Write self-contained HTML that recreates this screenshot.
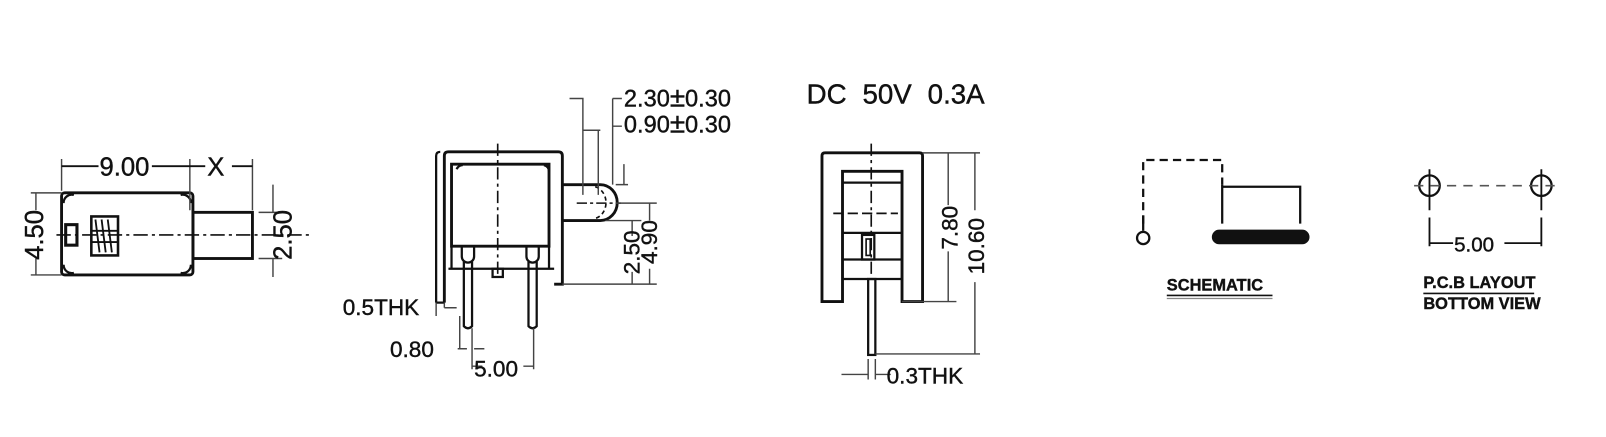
<!DOCTYPE html>
<html><head><meta charset="utf-8"><style>
html,body{margin:0;padding:0;background:#fff;width:1606px;height:437px;overflow:hidden}
svg{display:block}
text{font-family:"Liberation Sans",sans-serif;fill:#111;stroke:#111;stroke-width:0.4}
</style></head><body>
<svg width="1606" height="437" viewBox="0 0 1565 426" preserveAspectRatio="none" xmlns="http://www.w3.org/2000/svg">
<g stroke="#111" fill="none" stroke-width="2.2">
<!-- LEFT VIEW -->
<rect x="60" y="188" width="128" height="80" rx="3" stroke-width="2.8"/>
<rect x="188" y="207" width="58" height="45" stroke-width="2.8"/>
<path d="M62 198 a8 8 0 0 1 10 -8 M176 190 a8 8 0 0 1 10 8 M62 258 a8 8 0 0 0 10 8 M186 258 a8 8 0 0 1 -10 8"/>
<rect x="64" y="219" width="11" height="20" stroke-width="3"/>
<rect x="89" y="211" width="26" height="38" stroke-width="2.5"/>
<path d="M93 214 l4 32 M99 214 l4 32 M105 214 l4 32 M90 225 h24 M90 236 h24" stroke-width="1.8"/>
<path d="M55 229 h250" stroke-dasharray="14 4 3 4" stroke-width="1.6"/>
<path d="M60 186 V155 M185 205 V155 M246 205 V155" stroke-width="1.4" stroke="#444"/>
<path d="M60 162 H96 M148 162 H185 M185 162 H200 M226 162 H246" stroke-width="1.8"/>
<path d="M30 188 H60 M30 268 H60 M35 188 V205 M35 252 V268" stroke-width="1.4" stroke="#444"/>
<path d="M252 207 H275 M252 252 H275 M266 180 V207 M266 252 V270" stroke-width="1.4" stroke="#444"/>
<!-- MIDDLE VIEW -->
<path d="M433 295 V152 q0 -4 4 -4 H544 q4 0 4 4 V277 H540" stroke-width="2.8"/>
<path d="M425 295 V152 q0 -4 4 -4" stroke-width="2.2"/>
<path d="M425 295 H433"/>
<path d="M440 160 H535 V240 H440 Z" stroke-width="2.8"/>
<path d="M437 262 H540 M440 240 V262 M535 240 V262" stroke-width="2.2"/>
<path d="M445 165 a6 6 0 0 1 6 -4 M530 161 a6 6 0 0 1 5 6"/>
<path d="M450 240 v10 a6 6 0 0 0 12 0 v-10 M513 240 v10 a6 6 0 0 0 12 0 v-10"/>
<rect x="480" y="262" width="10" height="8"/>
<path d="M452 255 V318 q4 4 8 0 V255 M515 255 V318 q4 4 8 0 V255" stroke-width="2.2"/>
<path d="M485 140 V268" stroke-dasharray="12 4 3 4" stroke-width="1.6"/>
<path d="M548 180 H585 a16 17 0 0 1 0 35 H548" stroke-width="2.8"/>
<path d="M580 182 a14 16 0 0 1 0 31" stroke-dasharray="4 3" stroke-width="1.6"/>
<path d="M562 198 H605" stroke-dasharray="10 3 3 3" stroke-width="1.4"/>
<path d="M555 96 H568 V190 M568 127 H585 M583 127 V190 M597 96 V180 M597 96 H606 M597 123 H606 M608 160 V180 M600 180 H612" stroke-width="1.4" stroke="#444"/>
<path d="M600 198 H640 M590 215 H625 M548 277 H640 M633 198 V215 M633 262 V277 M616 215 V230 M616 265 V277" stroke-width="1.4" stroke="#444"/>
<path d="M425 295 V308 M433 295 V300 M433 300 H445 M448 308 V340 M460 320 V360 M455 340 H446 M462 340 H472 M460 357 H470 M520 320 V360 M510 357 H520" stroke-width="1.4" stroke="#444"/>
<!-- RIGHT VIEW -->
<path d="M801 294 V152 q0 -3 3 -3 H896 q3 0 3 3 V294 H879 V167 H821 V294 Z" stroke-width="2.8"/>
<path d="M821 167 H879 V272 H821 M821 178 H879 M821 227 H879 M821 253 H879" stroke-width="2.2"/>
<rect x="840" y="229" width="12" height="24" stroke-width="2.2"/>
<rect x="844" y="233" width="4" height="16" stroke-width="1.6"/>
<rect x="846" y="272" width="7" height="74" stroke-width="2.2"/>
<path d="M849 140 V272" stroke-dasharray="12 4 3 4" stroke-width="1.6"/>
<path d="M812 208 H875" stroke-dasharray="10 4" stroke-width="1.6"/>
<path d="M899 149 H955 M879 294 H932 M853 345 H955 M924 149 V200 M924 245 V294 M950 149 V205 M950 275 V345" stroke-width="1.4" stroke="#444"/>
<path d="M846 350 V370 M853 350 V370 M820 365 H846 M853 365 H868" stroke-width="1.4" stroke="#444"/>
<!-- SCHEMATIC -->
<path d="M1114 218 V156 H1191 V180" stroke-dasharray="8 5" stroke-width="2.2"/>
<path d="M1191 180 V218 M1191 182 H1267 V218 M1114 210 V225" stroke-width="2.2"/>
<circle cx="1114" cy="232" r="6" stroke-width="2.2"/>
<rect x="1182" y="225" width="93" height="12" rx="6" fill="#111"/>
<path d="M1137 288 H1240" stroke-width="1.6"/>
<path d="M1137 291 H1240" stroke-width="1.2" stroke="#888"/>
<!-- PCB -->
<circle cx="1393" cy="181" r="10" stroke-width="2.2"/>
<circle cx="1502" cy="181" r="10" stroke-width="2.2"/>
<path d="M1378 181 H1520" stroke-dasharray="9 7" stroke-width="1.6" stroke="#555"/>
<path d="M1393 165 V205 M1502 165 V205 M1393 212 V240 M1502 212 V240 M1393 237 H1416 M1466 237 H1502" stroke-width="1.8"/>
<path d="M1387 286 H1495" stroke-width="1.6"/>
</g>
<text x="97" y="171" font-size="25">9.00</text>
<text x="202" y="171" font-size="25">X</text>
<text transform="translate(42,229) rotate(-90)" text-anchor="middle" font-size="25">4.50</text>
<text transform="translate(284,229) rotate(-90)" text-anchor="middle" font-size="25">2.50</text>
<text x="608" y="104" font-size="23">2.30<tspan font-size="27">±</tspan>0.30</text>
<text x="608" y="129" font-size="23">0.90<tspan font-size="27">±</tspan>0.30</text>
<text transform="translate(623,246) rotate(-90)" text-anchor="middle" font-size="22">2.50</text>
<text transform="translate(640,236) rotate(-90)" text-anchor="middle" font-size="22">4.90</text>
<text x="334" y="307" font-size="22">0.5THK</text>
<text x="380" y="348" font-size="22">0.80</text>
<text x="462" y="367" font-size="22">5.00</text>
<text x="786" y="101" font-size="27" word-spacing="8">DC 50V 0.3A</text>
<text transform="translate(933,222) rotate(-90)" text-anchor="middle" font-size="22">7.80</text>
<text transform="translate(959,240) rotate(-90)" text-anchor="middle" font-size="22">10.60</text>
<text x="864" y="374" font-size="22">0.3THK</text>
<text x="1137" y="283" font-size="16" font-weight="bold">SCHEMATIC</text>
<text x="1417" y="245" font-size="20">5.00</text>
<text x="1387" y="281" font-size="16" font-weight="bold">P.C.B LAYOUT</text>
<text x="1387" y="301" font-size="16" font-weight="bold">BOTTOM VIEW</text>
</svg>
</body></html>
